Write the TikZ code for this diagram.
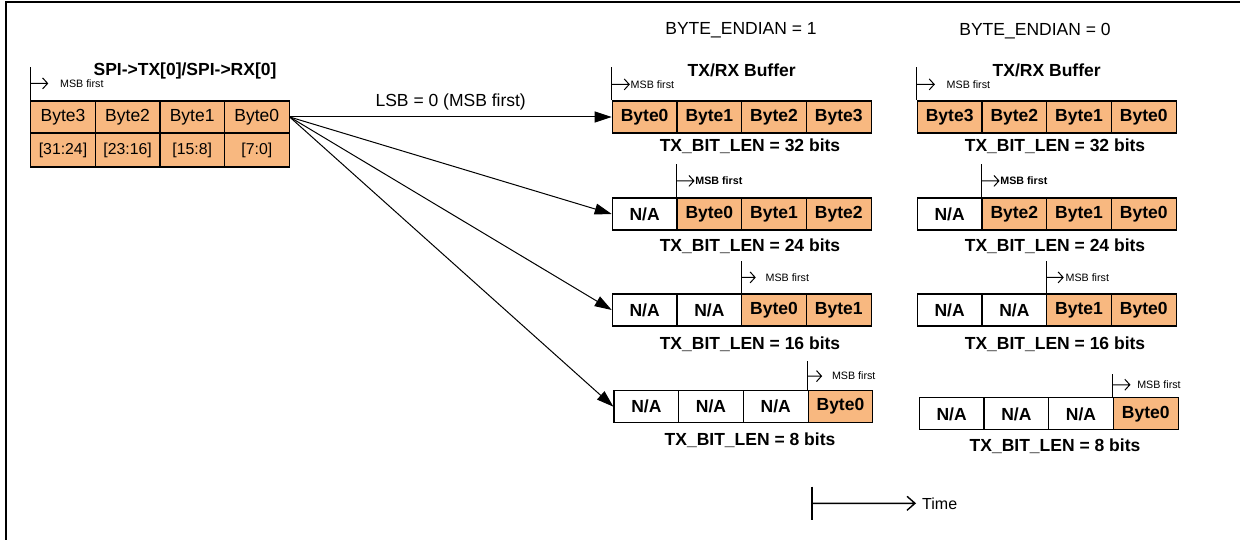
\documentclass[tikz,border=0pt]{standalone}
\usepackage{fontspec}
\setmainfont{Liberation Sans}
\usetikzlibrary{arrows.meta}
\definecolor{peach}{RGB}{248,184,128}
% #1 cell anchor, #2 line height, #3 arrow height above cell, #4 arrow length, #5 text gap, #6 text style
\newcommand\msbmark[6]{%
  \draw[msbline] (#1) -- ++(0,-#2);
  \draw[msbline] ([yshift=#3pt]#1) -- ++(#4,0) node[#6, xshift=#5pt] {MSB first}
    ++(-5,-5.5) -- ++(5,5.5) -- ++(-5,5.5);}
\begin{document}
\begin{tikzpicture}[x=1pt,y=-1pt,
  cellb/.style={draw, line width=1.2pt, minimum width=64.7pt, minimum height=32pt, inner sep=0pt,
    font=\fontsize{17.5}{20}\selectfont\bfseries},
  byte/.style={cellb, fill=peach},
  na/.style={cellb, fill=white},
  lcell/.style={draw, line width=1.2pt, fill=peach, minimum width=64.6pt, inner sep=0pt},
  ttl/.style={font=\fontsize{17.5}{20}\selectfont\bfseries, inner sep=0pt},
  lbl/.style={font=\fontsize{17.5}{20}\selectfont\bfseries, inner sep=0pt},
  plain/.style={font=\fontsize{17.5}{20}\selectfont, inner sep=0pt},
  msbline/.style={line width=1pt},
  msbtext/.style={font=\fontsize{10.7}{12}\selectfont, inner sep=0pt, anchor=west},
  msbtextb/.style={font=\fontsize{10.7}{12}\selectfont\bfseries, inner sep=0pt, anchor=west},
  conn/.style={line width=1pt, -{Triangle[length=17pt,width=11pt]}}]
\useasboundingbox (0,0) rectangle (1240,540);
% frame (top and left only)
\draw[line width=2pt] (6,540) -- (6,2) -- (1240,2);

% ---------------- left block ----------------
\node[ttl] (srcttl) at (185,71) {SPI->TX[0]/SPI->RX[0]};
\foreach \n/\x/\t in {l3/63/Byte3, l2/127.6/Byte2, l1/192.2/Byte1, l0/256.8/Byte0}{
  \node[lcell, minimum height=32pt, font=\fontsize{17.5}{20}\selectfont] (\n) at (\x,117) {\t};
}
\foreach \n/\x/\t in {k3/63/{[31:24]}, k2/127.6/{[23:16]}, k1/192.2/{[15:8]}, k0/256.8/{[7:0]}}{
  \node[lcell, minimum height=34pt, font=\fontsize{15.8}{18}\selectfont] (\n) at (\x,150) {\t};
}
\msbmark{l3.north west}{33}{17}{17.5}{12}{msbtext}

% ---------------- BYTE_ENDIAN = 1 ----------------
\node[plain] (be1) at (741,30.7) {BYTE\_ENDIAN = 1};
\node[ttl] (buf1) at (741.7,70.7) {TX/RX Buffer};
% row A
\node[byte] (mA1) at (644.65,117) {Byte0};
\node[byte] (mA2) at (709.35,117) {Byte1};
\node[byte] (mA3) at (774.05,117) {Byte2};
\node[byte] (mA4) at (838.75,117) {Byte3};
\node[lbl] (mAl) at (750,146.7) {TX\_BIT\_LEN = 32 bits};
\msbmark{mA1.north west}{33}{16}{17.5}{1}{msbtext}
% row B
\node[na] (mB1) at (644.65,214) {N/A};
\node[byte] (mB2) at (709.35,214) {Byte0};
\node[byte] (mB3) at (774.05,214) {Byte1};
\node[byte] (mB4) at (838.75,214) {Byte2};
\node[lbl] (mBl) at (750,246.7) {TX\_BIT\_LEN = 24 bits};
\msbmark{mB2.north west}{33}{16.5}{17.5}{1}{msbtextb}
% row C
\node[na] (mC1) at (644.65,310) {N/A};
\node[na] (mC2) at (709.35,310) {N/A};
\node[byte] (mC3) at (774.05,310) {Byte0};
\node[byte] (mC4) at (838.75,310) {Byte1};
\node[lbl] (mCl) at (750,344) {TX\_BIT\_LEN = 16 bits};
\msbmark{mC3.north west}{32}{16}{14}{10}{msbtext}
% row D
\node[na] (mD1) at (646.35,406.7) {N/A};
\node[na] (mD2) at (711.05,406.7) {N/A};
\node[na] (mD3) at (775.75,406.7) {N/A};
\node[byte] (mD4) at (840.45,406.7) {Byte0};
\node[lbl] (mDl) at (750,440) {TX\_BIT\_LEN = 8 bits};
\msbmark{mD4.north west}{29}{14}{14}{10}{msbtext}

% ---------------- BYTE_ENDIAN = 0 ----------------
\node[plain] (be0) at (1035,30.7) {BYTE\_ENDIAN = 0};
\node[ttl] (buf0) at (1046.7,70.7) {TX/RX Buffer};
% row A
\node[byte] (rA1) at (949.65,117) {Byte3};
\node[byte] (rA2) at (1014.35,117) {Byte2};
\node[byte] (rA3) at (1079.05,117) {Byte1};
\node[byte] (rA4) at (1143.75,117) {Byte0};
\node[lbl] (rAl) at (1055,146.7) {TX\_BIT\_LEN = 32 bits};
\msbmark{rA1.north west}{33}{16}{17.5}{12}{msbtext}
% row B
\node[na] (rB1) at (949.65,214) {N/A};
\node[byte] (rB2) at (1014.35,214) {Byte2};
\node[byte] (rB3) at (1079.05,214) {Byte1};
\node[byte] (rB4) at (1143.75,214) {Byte0};
\node[lbl] (rBl) at (1055,246.7) {TX\_BIT\_LEN = 24 bits};
\msbmark{rB2.north west}{33}{16.5}{17.5}{1}{msbtextb}
% row C
\node[na] (rC1) at (949.65,310) {N/A};
\node[na] (rC2) at (1014.35,310) {N/A};
\node[byte] (rC3) at (1079.05,310) {Byte1};
\node[byte] (rC4) at (1143.75,310) {Byte0};
\node[lbl] (rCl) at (1055,344) {TX\_BIT\_LEN = 16 bits};
\msbmark{rC3.north west}{32}{16}{17}{2}{msbtext}
% row D
\node[na] (rD1) at (951.65,413.85) {N/A};
\node[na] (rD2) at (1016.35,413.85) {N/A};
\node[na] (rD3) at (1081.05,413.85) {N/A};
\node[byte] (rD4) at (1145.75,413.85) {Byte0};
\node[lbl] (rDl) at (1055,446.7) {TX\_BIT\_LEN = 8 bits};
\msbmark{rD4.north west}{23}{12.5}{17}{7}{msbtext}

% ---------------- connectors ----------------
\draw[conn] (l0.east) -- node[plain, above=6pt] {LSB = 0 (MSB first)} (mA1.west);
\draw[conn] (l0.east) -- (mB1.west);
\draw[conn] (l0.east) -- (mC1.west);
\draw[conn] (l0.east) -- (mD1.west);

% ---------------- time axis ----------------
\coordinate (t0) at (812.3,503.3);
\draw[line width=1.8pt] (812.3,486.7) -- (812.3,520);
\node[font=\fontsize{16}{19}\selectfont, inner sep=0pt, anchor=west] (time) at (922,503.3) {Time};
\draw[line width=1.4pt] (t0) -- ([xshift=-7pt]time.west) ++(-8,-7) -- ++(8,7) -- ++(-8,7);
\end{tikzpicture}
\end{document}
